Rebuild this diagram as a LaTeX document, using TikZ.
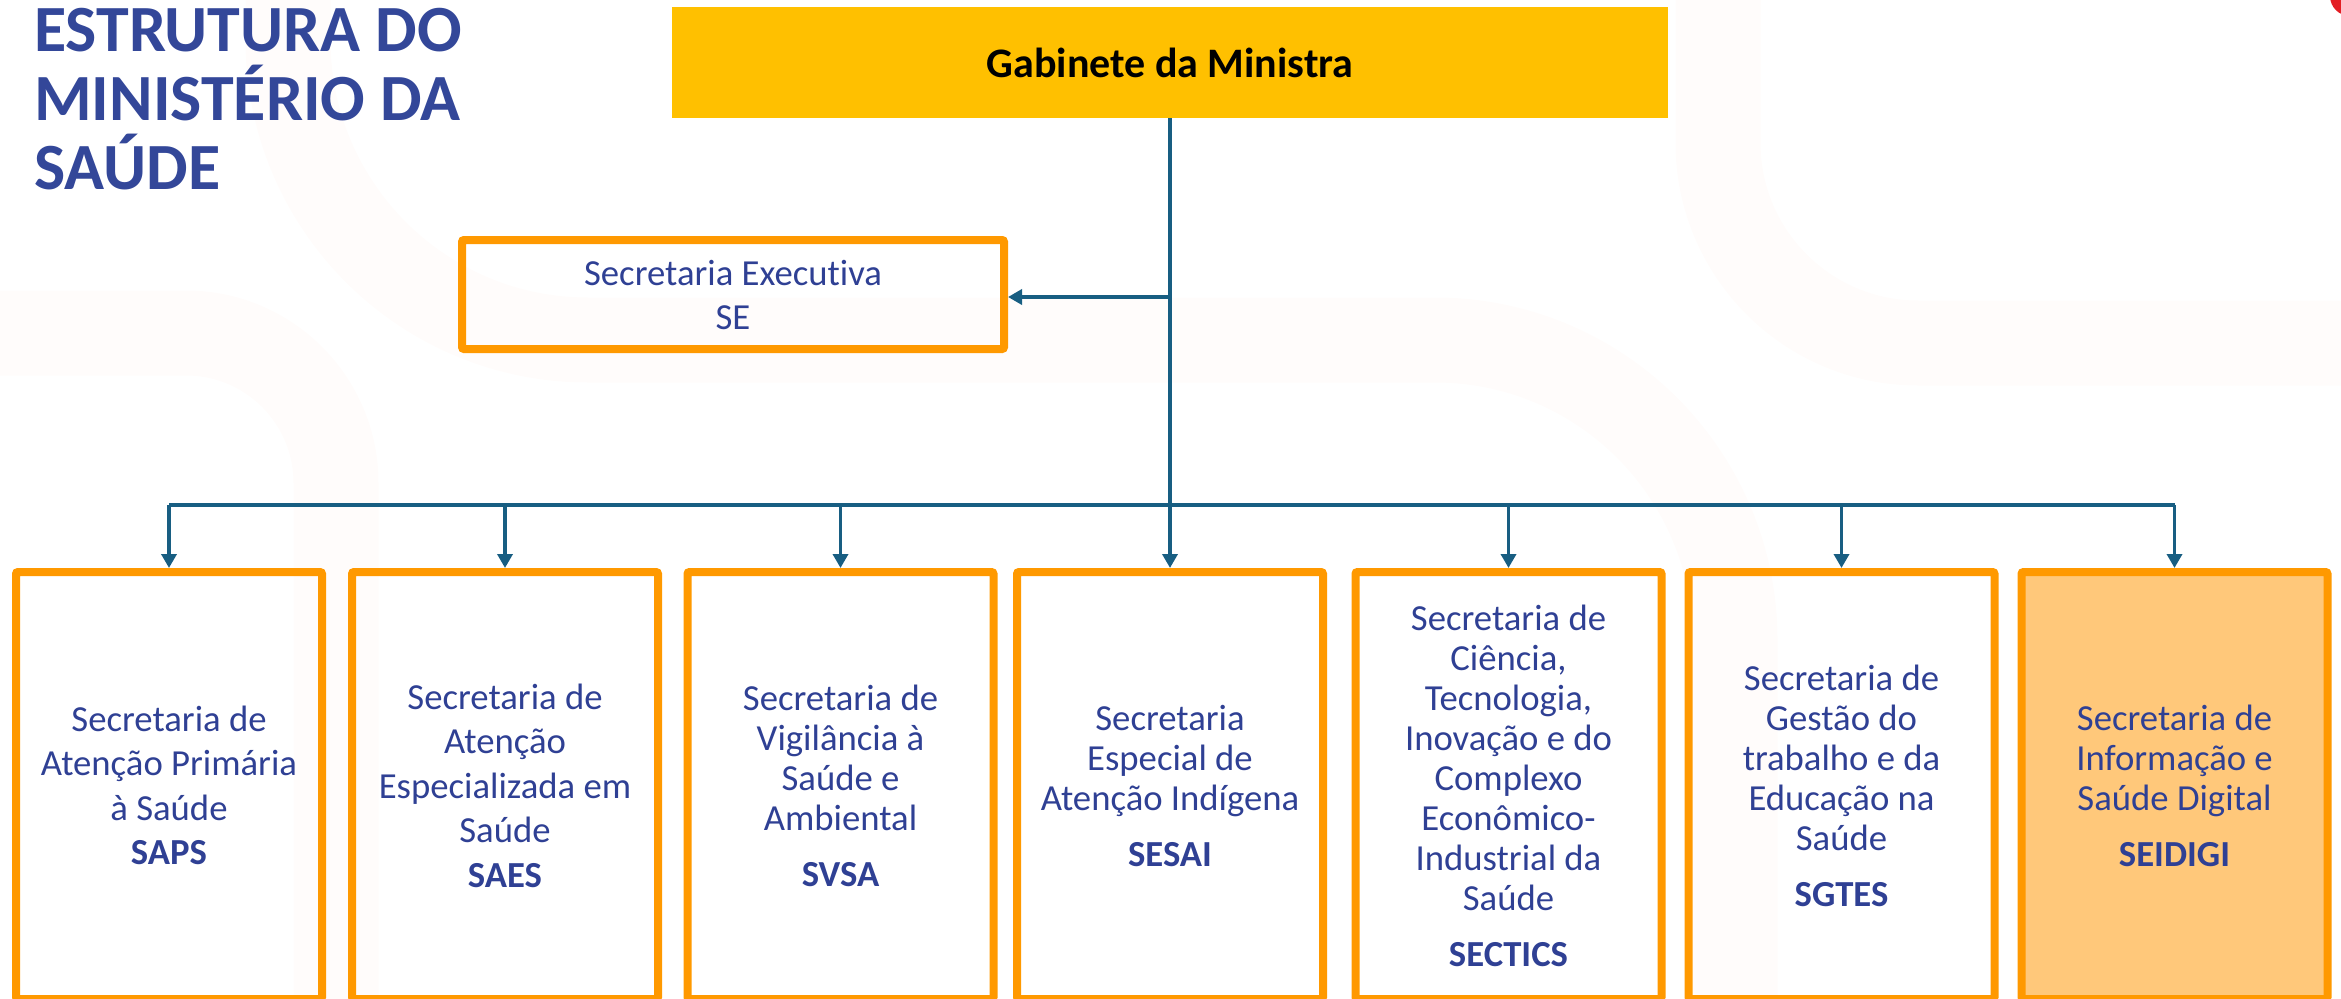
\documentclass[tikz,border=0pt]{standalone}
\usepackage{fontspec}
\setmainfont{Carlito}[Ligatures=NoCommon]
\usetikzlibrary{arrows.meta}
\definecolor{orgborder}{RGB}{255,153,0}
\definecolor{gold}{RGB}{255,192,0}
\definecolor{seifill}{RGB}{255,200,122}
\definecolor{txtblue}{RGB}{47,64,148}
\definecolor{ttlblue}{RGB}{51,71,153}
\definecolor{linkblue}{RGB}{24,94,130}
\definecolor{bgpink}{RGB}{255,252,251}
\definecolor{logored}{RGB}{227,30,36}
\begin{document}
\begin{tikzpicture}[x=1pt,y=-1pt,
  orgbox/.style={draw=orgborder, line width=8pt, rounded corners=2pt,
    minimum width=306pt, minimum height=427pt, inner sep=0pt, align=center,
    text=txtblue, font=\fontsize{36.7}{40}\selectfont},
  orgboxwide/.style={orgbox, font=\fontsize{36.7}{44.5}\selectfont},
  sebox/.style={draw=orgborder, line width=8pt, rounded corners=2pt,
    minimum width=542pt, minimum height=109pt, inner sep=0pt, align=center,
    text=txtblue, font=\fontsize{36.7}{44}\selectfont},
  gabbox/.style={fill=gold, minimum width=996pt, minimum height=111pt,
    inner sep=0pt, font=\bfseries\fontsize{42}{50}\selectfont},
  link/.style={draw=linkblue, line width=3.5pt},
  arrowline/.style={link, -{Triangle[width=15pt,length=14pt]}},
  band/.style={draw=bgpink, line width=85pt}
]
\useasboundingbox (0,0) rectangle (2341,998);
\clip (0,0) rectangle (2341,998);
% faint background bands
\draw[band, rounded corners=200pt] (1718,-100) -- (1718,343) -- (2500,343);
\draw[band, rounded corners=300pt] (288,-100) -- (288,340) -- (1735,340) -- (1735,1100);
\draw[band, rounded corners=150pt] (-100,333) -- (336,333) -- (336,1100);
% red logo fragment
\fill[logored] (2350,-4) circle (20pt);
% title
\node[anchor=north west, inner sep=0pt, align=left, text=ttlblue,
  font=\bfseries\fontsize{66}{69}\selectfont] (title) at (34,8)
  {ESTRUTURA DO\\MINISTÉRIO DA\\SAÚDE};
% top boxes
\node[gabbox] (gab) at (1170,62.5) {Gabinete da Ministra};
\node[sebox] (se) at (733,294.5) {Secretaria Executiva\\SE};
% bottom boxes
\node[orgboxwide] (b1) at (169,785.5) {Secretaria de\\Atenção Primária\\à Saúde\\\textbf{SAPS}};
\node[orgboxwide] (b2) at (505,785.5) {Secretaria de\\Atenção\\Especializada em\\Saúde\\\textbf{SAES}};
\node[orgbox] (b3) at (840.5,785.5) {Secretaria de\\Vigilância à\\Saúde e\\Ambiental\\[16pt]\textbf{SVSA}};
\node[orgbox] (b4) at (1170,785.5) {Secretaria\\Especial de\\Atenção Indígena\\[16pt]\textbf{SESAI}};
\node[orgbox] (b5) at (1508.5,785.5) {Secretaria de\\Ciência,\\Tecnologia,\\Inovação e do\\Complexo\\Econômico-\\Industrial da\\Saúde\\[16pt]\textbf{SECTICS}};
\node[orgbox] (b6) at (1841.5,785.5) {Secretaria de\\Gestão do\\trabalho e da\\Educação na\\Saúde\\[16pt]\textbf{SGTES}};
\node[orgbox, fill=seifill] (b7) at (2174.5,785.5) {Secretaria de\\Informação e\\Saúde Digital\\[16pt]\textbf{SEIDIGI}};
% connectors
\coordinate (bus) at (1170,505);
\coordinate (sej) at (1170,297);
\draw[arrowline] (gab.south) -- (b4.north);
\draw[arrowline] (sej) -- (sej -| se.east);
\draw[link] (b1.north |- bus) -- (b7.north |- bus);
\foreach \b in {b1,b2,b3,b5,b6,b7}{
  \draw[arrowline] (\b.north |- bus) -- (\b.north);
}
\end{tikzpicture}
\end{document}
